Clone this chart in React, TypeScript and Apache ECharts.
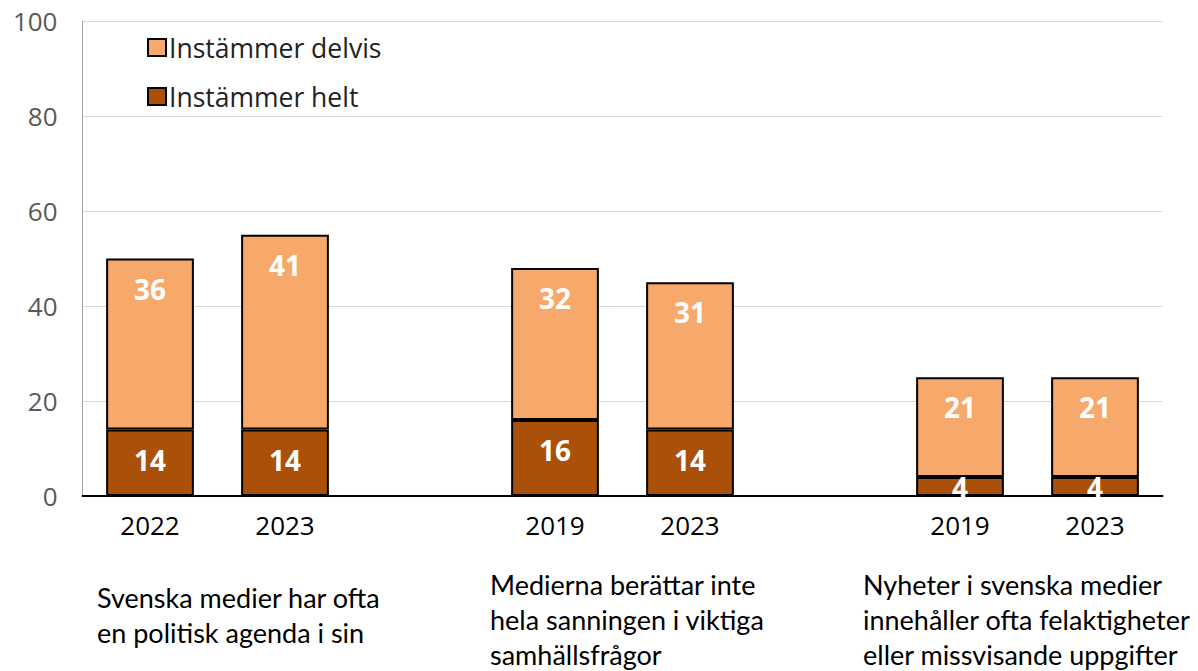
import React, { useEffect, useRef } from "react";
import * as echarts from "echarts";

const categories = ["2022", "2023", "", "2019", "2023", "", "2019", "2023"];
const heltValues = [14, 14, null, 16, 14, null, 4, 4];
const delvisValues = [36, 41, null, 32, 31, null, 21, 21];
const yTicks = [0, 20, 40, 60, 80, 100];
const groupLabels = [
  "Svenska medier har ofta\nen politisk agenda i sin",
  "Medierna berättar inte\nhela sanningen i viktiga\nsamhällsfrågor",
  "Nyheter i svenska medier\ninnehåller ofta felaktigheter\neller missvisande uppgifter",
];

const LIGHT = "#F6A96A";
const DARK = "#AA5009";

export default function App() {
  const ref = useRef<HTMLDivElement>(null);
  useEffect(() => {
    document.body.style.margin = "0";
    const chart = echarts.init(ref.current!, null, { renderer: "svg" });
    const labelBase = {
      show: true,
      position: "insideTop" as const,
      color: "#FFFFFF",
      fontWeight: "bold" as const,
      fontSize: 28,
      fontFamily: "Open Sans",
      distance: 16,
    };
    const mkData = (arr: (number | null)[]) =>
      arr.map((v) =>
        v === null
          ? null
          : v < 8
          ? { value: v, label: { distance: -4 } }
          : v
      );
    const groupStyle = { fontSize: 27, lineHeight: 35, fontFamily: "Lato", fill: "#000000" };
    chart.setOption({
      animation: false,
      backgroundColor: "#FFFFFF",
      grid: { left: 82.5, right: 35.5, top: 21, bottom: 175 },
      legend: {
        orient: "vertical",
        left: 142,
        top: 29,
        itemWidth: 18,
        itemHeight: 17,
        itemGap: 22,
        icon: "rect",
        data: ["Instämmer delvis", "Instämmer helt"],
        textStyle: { fontSize: 26.5, fontFamily: "Open Sans", color: "#222222", padding: [0, 0, 0, -2] },
      },
      xAxis: {
        type: "category",
        data: categories,
        axisTick: { show: false },
        axisLine: { lineStyle: { color: "#000000", width: 2 } },
        axisLabel: { fontSize: 26, fontFamily: "Open Sans", color: "#000000", margin: 16 },
      },
      yAxis: {
        type: "value",
        min: 0,
        max: 100,
        interval: 20,
        axisLine: { show: true, lineStyle: { color: "#A6A6A6", width: 1 } },
        axisTick: { show: false },
        splitLine: { lineStyle: { color: "#D9D9D9", width: 1 } },
        axisLabel: {
          fontSize: 26,
          fontFamily: "Open Sans",
          color: "#595959",
          margin: 25,
          formatter: (v: number) => (yTicks.includes(v) ? String(v) : ""),
        },
      },
      series: [
        {
          name: "Instämmer helt",
          type: "bar",
          stack: "total",
          barWidth: "65%",
          data: mkData(heltValues),
          itemStyle: { color: DARK, borderColor: "#000000", borderWidth: 2 },
          label: labelBase,
        },
        {
          name: "Instämmer delvis",
          type: "bar",
          stack: "total",
          barWidth: "65%",
          data: mkData(delvisValues),
          itemStyle: { color: LIGHT, borderColor: "#000000", borderWidth: 2 },
          label: labelBase,
        },
      ],
      graphic: [
        { type: "text", left: 97, top: 580, style: { text: groupLabels[0], ...groupStyle } },
        { type: "text", left: 490, top: 567, style: { text: groupLabels[1], ...groupStyle } },
        { type: "text", left: 863, top: 567, style: { text: groupLabels[2], ...groupStyle } },
      ],
    });
    return () => chart.dispose();
  }, []);
  return (
    <div
      ref={ref}
      style={{ width: 1198, height: 671, position: "absolute", left: 0, top: 0 }}
    />
  );
}
